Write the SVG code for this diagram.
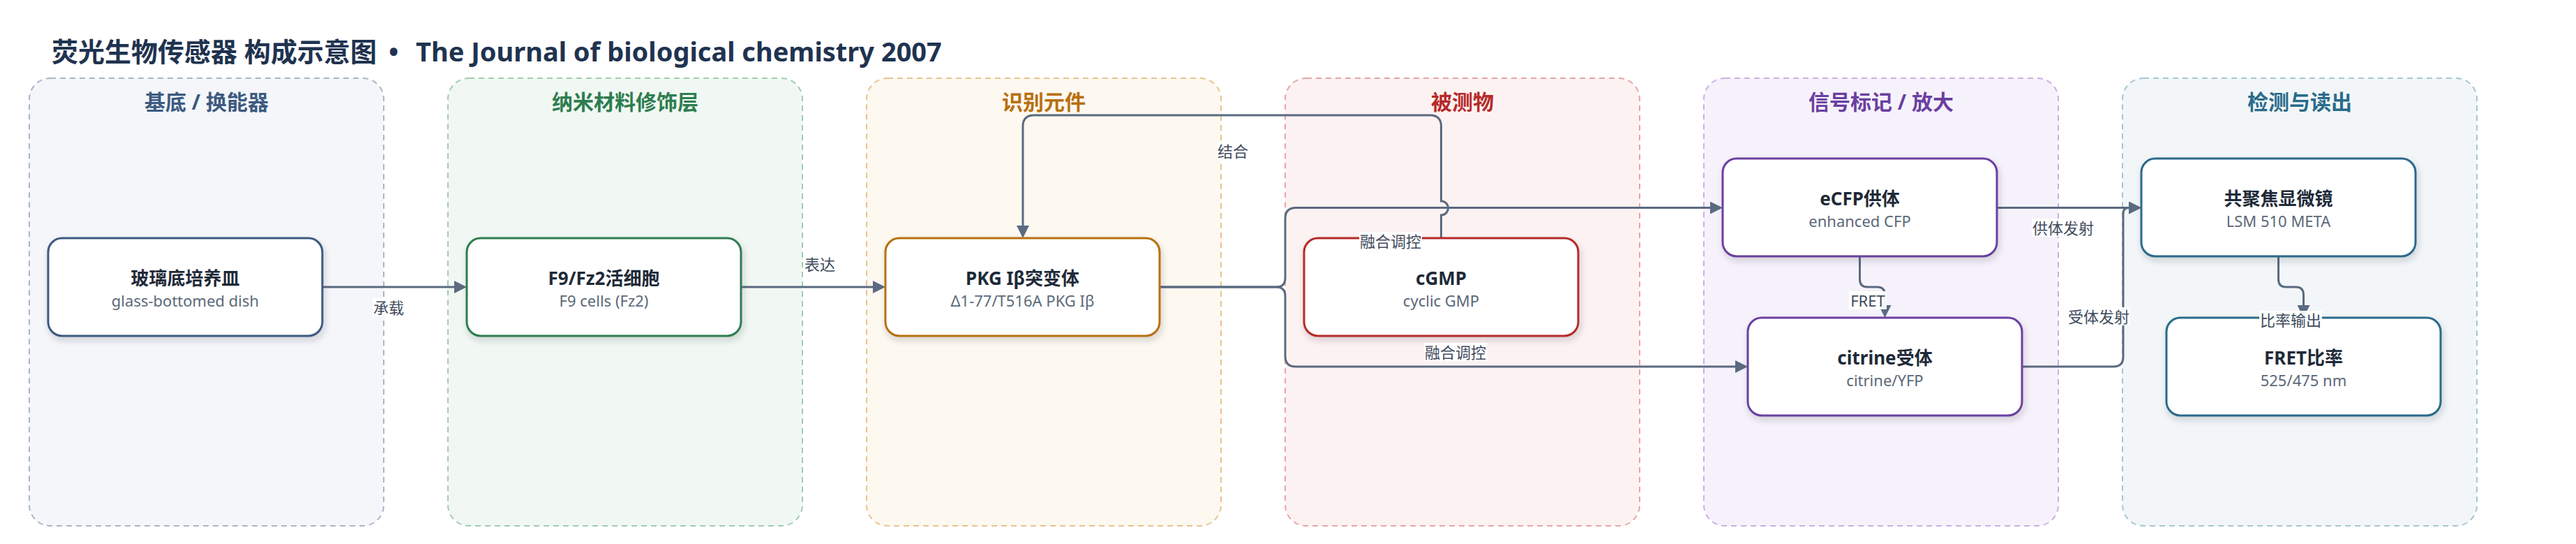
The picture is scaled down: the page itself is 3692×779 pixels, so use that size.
<svg xmlns="http://www.w3.org/2000/svg" width="3692" height="779" viewBox="0 0 3692 779">
<defs>
<style>
text{font-family:"Noto Sans","Noto Sans CJK SC",sans-serif;}
.title{font-size:38px;font-weight:700;fill:#1f3350;}
.ph{font-size:30px;font-weight:700;text-anchor:middle;}
.panel{stroke-width:2;stroke-dasharray:8 6;}
.node{fill:#ffffff;stroke-width:3;filter:url(#sh);}
.nt{font-size:26px;font-weight:700;fill:#1e2a38;text-anchor:middle;}
.ns{font-size:22px;fill:#5b6878;text-anchor:middle;}
.edge{fill:none;stroke:#5a6a80;stroke-width:3;}
.arr{marker-end:url(#ah);}
.lb{font-size:22px;fill:#3f4b5c;text-anchor:middle;}
.lbg{fill:#ffffff;fill-opacity:0.92;}
</style>
<filter id="sh" x="-10%" y="-15%" width="125%" height="150%">
<feDropShadow dx="2" dy="5" stdDeviation="5" flood-color="#1e293b" flood-opacity="0.18"/>
</filter>
<marker id="ah" markerWidth="18" markerHeight="18" refX="10" refY="9" orient="auto" markerUnits="userSpaceOnUse">
<path d="M0,0 L18,9 L0,18 z" fill="#5a6a80"/>
</marker>
</defs>
<rect width="3692" height="779" fill="#ffffff"/>
<text class="title" x="74" y="88">荧光生物传感器 构成示意图<tspan x="557">•</tspan><tspan x="596">The Journal of biological chemistry 2007</tspan></text>

<g id="panels">
<g id="panel-substrate"><rect class="panel" x="42" y="112" width="508" height="641" rx="30" fill="#f4f6fa" stroke="#a9b6c8"/><text class="ph" x="296" y="157" fill="#3d5a80">基底 / 换能器</text></g>
<g id="panel-nano"><rect class="panel" x="642" y="112" width="508" height="641" rx="30" fill="#f1f8f3" stroke="#9fcdb0"/><text class="ph" x="896" y="157" fill="#2e7d4f">纳米材料修饰层</text></g>
<g id="panel-recog"><rect class="panel" x="1242" y="112" width="508" height="641" rx="30" fill="#fdf8f0" stroke="#e8c38f"/><text class="ph" x="1496" y="157" fill="#b7700f">识别元件</text></g>
<g id="panel-analyte"><rect class="panel" x="1842" y="112" width="508" height="641" rx="30" fill="#fdf2f2" stroke="#e8a5a5"/><text class="ph" x="2096" y="157" fill="#b52a2a">被测物</text></g>
<g id="panel-signal"><rect class="panel" x="2442" y="112" width="508" height="641" rx="30" fill="#f6f2fb" stroke="#c9b0e3"/><text class="ph" x="2696" y="157" fill="#6a3fa0">信号标记 / 放大</text></g>
<g id="panel-detect"><rect class="panel" x="3042" y="112" width="508" height="641" rx="30" fill="#f2f6f8" stroke="#a6c6d3"/><text class="ph" x="3296" y="157" fill="#2a6b8a">检测与读出</text></g>
</g>

<g id="connectors">
<path class="edge arr" d="M462,411 H661"/>
<path class="edge arr" d="M1062,411 H1261"/>
<path class="edge arr" d="M2065.5,341 V308 A10,10 0 0 0 2065.5,288 V181 Q2065.5,165 2049.5,165 H1482 Q1466,165 1466,181 V333"/>
<path class="edge arr" d="M1662,411 H1829 Q1842,411 1842,398 V313 Q1842,297.5 1857.5,297.5 H2461"/>
<path class="edge arr" d="M1662,411 H1829 Q1842,411 1842,424 V510 Q1842,525 1857,525 H2497"/>
<path class="edge arr" d="M2665.5,367 V400 Q2665.5,411 2676.5,411 H2690.5 Q2701.5,411 2701.5,422 V447"/>
<path class="edge arr" d="M2862,297.5 H3061"/>
<path class="edge arr" d="M2898,525 H3029 Q3043,525 3043,511 V306 Q3043,297.5 3051.5,297.5 H3061"/>
<path class="edge arr" d="M3265.5,367 V400 Q3265.5,411 3276.5,411 H3290.5 Q3301.5,411 3301.5,422 V447"/>
</g>

<g id="nodes">
<g id="n-dish"><rect class="node" x="69" y="341" width="393" height="140" rx="20" stroke="#3d5a80"/><text class="nt" x="265.5" y="408">玻璃底培养皿</text><text class="ns" x="265.5" y="439">glass-bottomed dish</text></g>
<g id="n-cells"><rect class="node" x="669" y="341" width="393" height="140" rx="20" stroke="#2e7d4f"/><text class="nt" x="865.5" y="408">F9/Fz2活细胞</text><text class="ns" x="865.5" y="439">F9 cells (Fz2)</text></g>
<g id="n-pkg"><rect class="node" x="1269" y="341" width="393" height="140" rx="20" stroke="#b7700f"/><text class="nt" x="1465.5" y="408">PKG Iβ突变体</text><text class="ns" x="1465.5" y="439">Δ1-77/T516A PKG Iβ</text></g>
<g id="n-cgmp"><rect class="node" x="1869" y="341" width="393" height="140" rx="20" stroke="#b52a2a"/><text class="nt" x="2065.5" y="408">cGMP</text><text class="ns" x="2065.5" y="439">cyclic GMP</text></g>
<g id="n-ecfp"><rect class="node" x="2469" y="227" width="393" height="140" rx="20" stroke="#6a3fa0"/><text class="nt" x="2665.5" y="294">eCFP供体</text><text class="ns" x="2665.5" y="325">enhanced CFP</text></g>
<g id="n-citrine"><rect class="node" x="2505" y="455" width="393" height="140" rx="20" stroke="#6a3fa0"/><text class="nt" x="2701.5" y="522">citrine受体</text><text class="ns" x="2701.5" y="553">citrine/YFP</text></g>
<g id="n-confocal"><rect class="node" x="3069" y="227" width="393" height="140" rx="20" stroke="#2a6b8a"/><text class="nt" x="3265.5" y="294">共聚焦显微镜</text><text class="ns" x="3265.5" y="325">LSM 510 META</text></g>
<g id="n-ratio"><rect class="node" x="3105" y="455" width="393" height="140" rx="20" stroke="#2a6b8a"/><text class="nt" x="3301.5" y="522">FRET比率</text><text class="ns" x="3301.5" y="553">525/475 nm</text></g>
</g>

<g id="edge-labels">
<rect class="lbg" x="534" y="427" width="46" height="26"/><text class="lb" x="557" y="449">承载</text>
<rect class="lbg" x="1152" y="365" width="46" height="26"/><text class="lb" x="1175" y="387">表达</text>
<rect class="lbg" x="1744" y="203" width="46" height="26"/><text class="lb" x="1767" y="225">结合</text>
<rect class="lbg" x="1948" y="332" width="90" height="26"/><text class="lb" x="1993" y="354">融合调控</text>
<rect class="lbg" x="2041" y="491" width="90" height="26"/><text class="lb" x="2086" y="513">融合调控</text>
<rect class="lbg" x="2650" y="417" width="54" height="26"/><text class="lb" x="2677" y="439">FRET</text>
<rect class="lbg" x="2912" y="313" width="90" height="26"/><text class="lb" x="2957" y="335">供体发射</text>
<rect class="lbg" x="2963" y="440" width="90" height="26"/><text class="lb" x="3008" y="462">受体发射</text>
<rect class="lbg" x="3238" y="445" width="90" height="26"/><text class="lb" x="3283" y="467">比率输出</text>
</g>
</svg>
